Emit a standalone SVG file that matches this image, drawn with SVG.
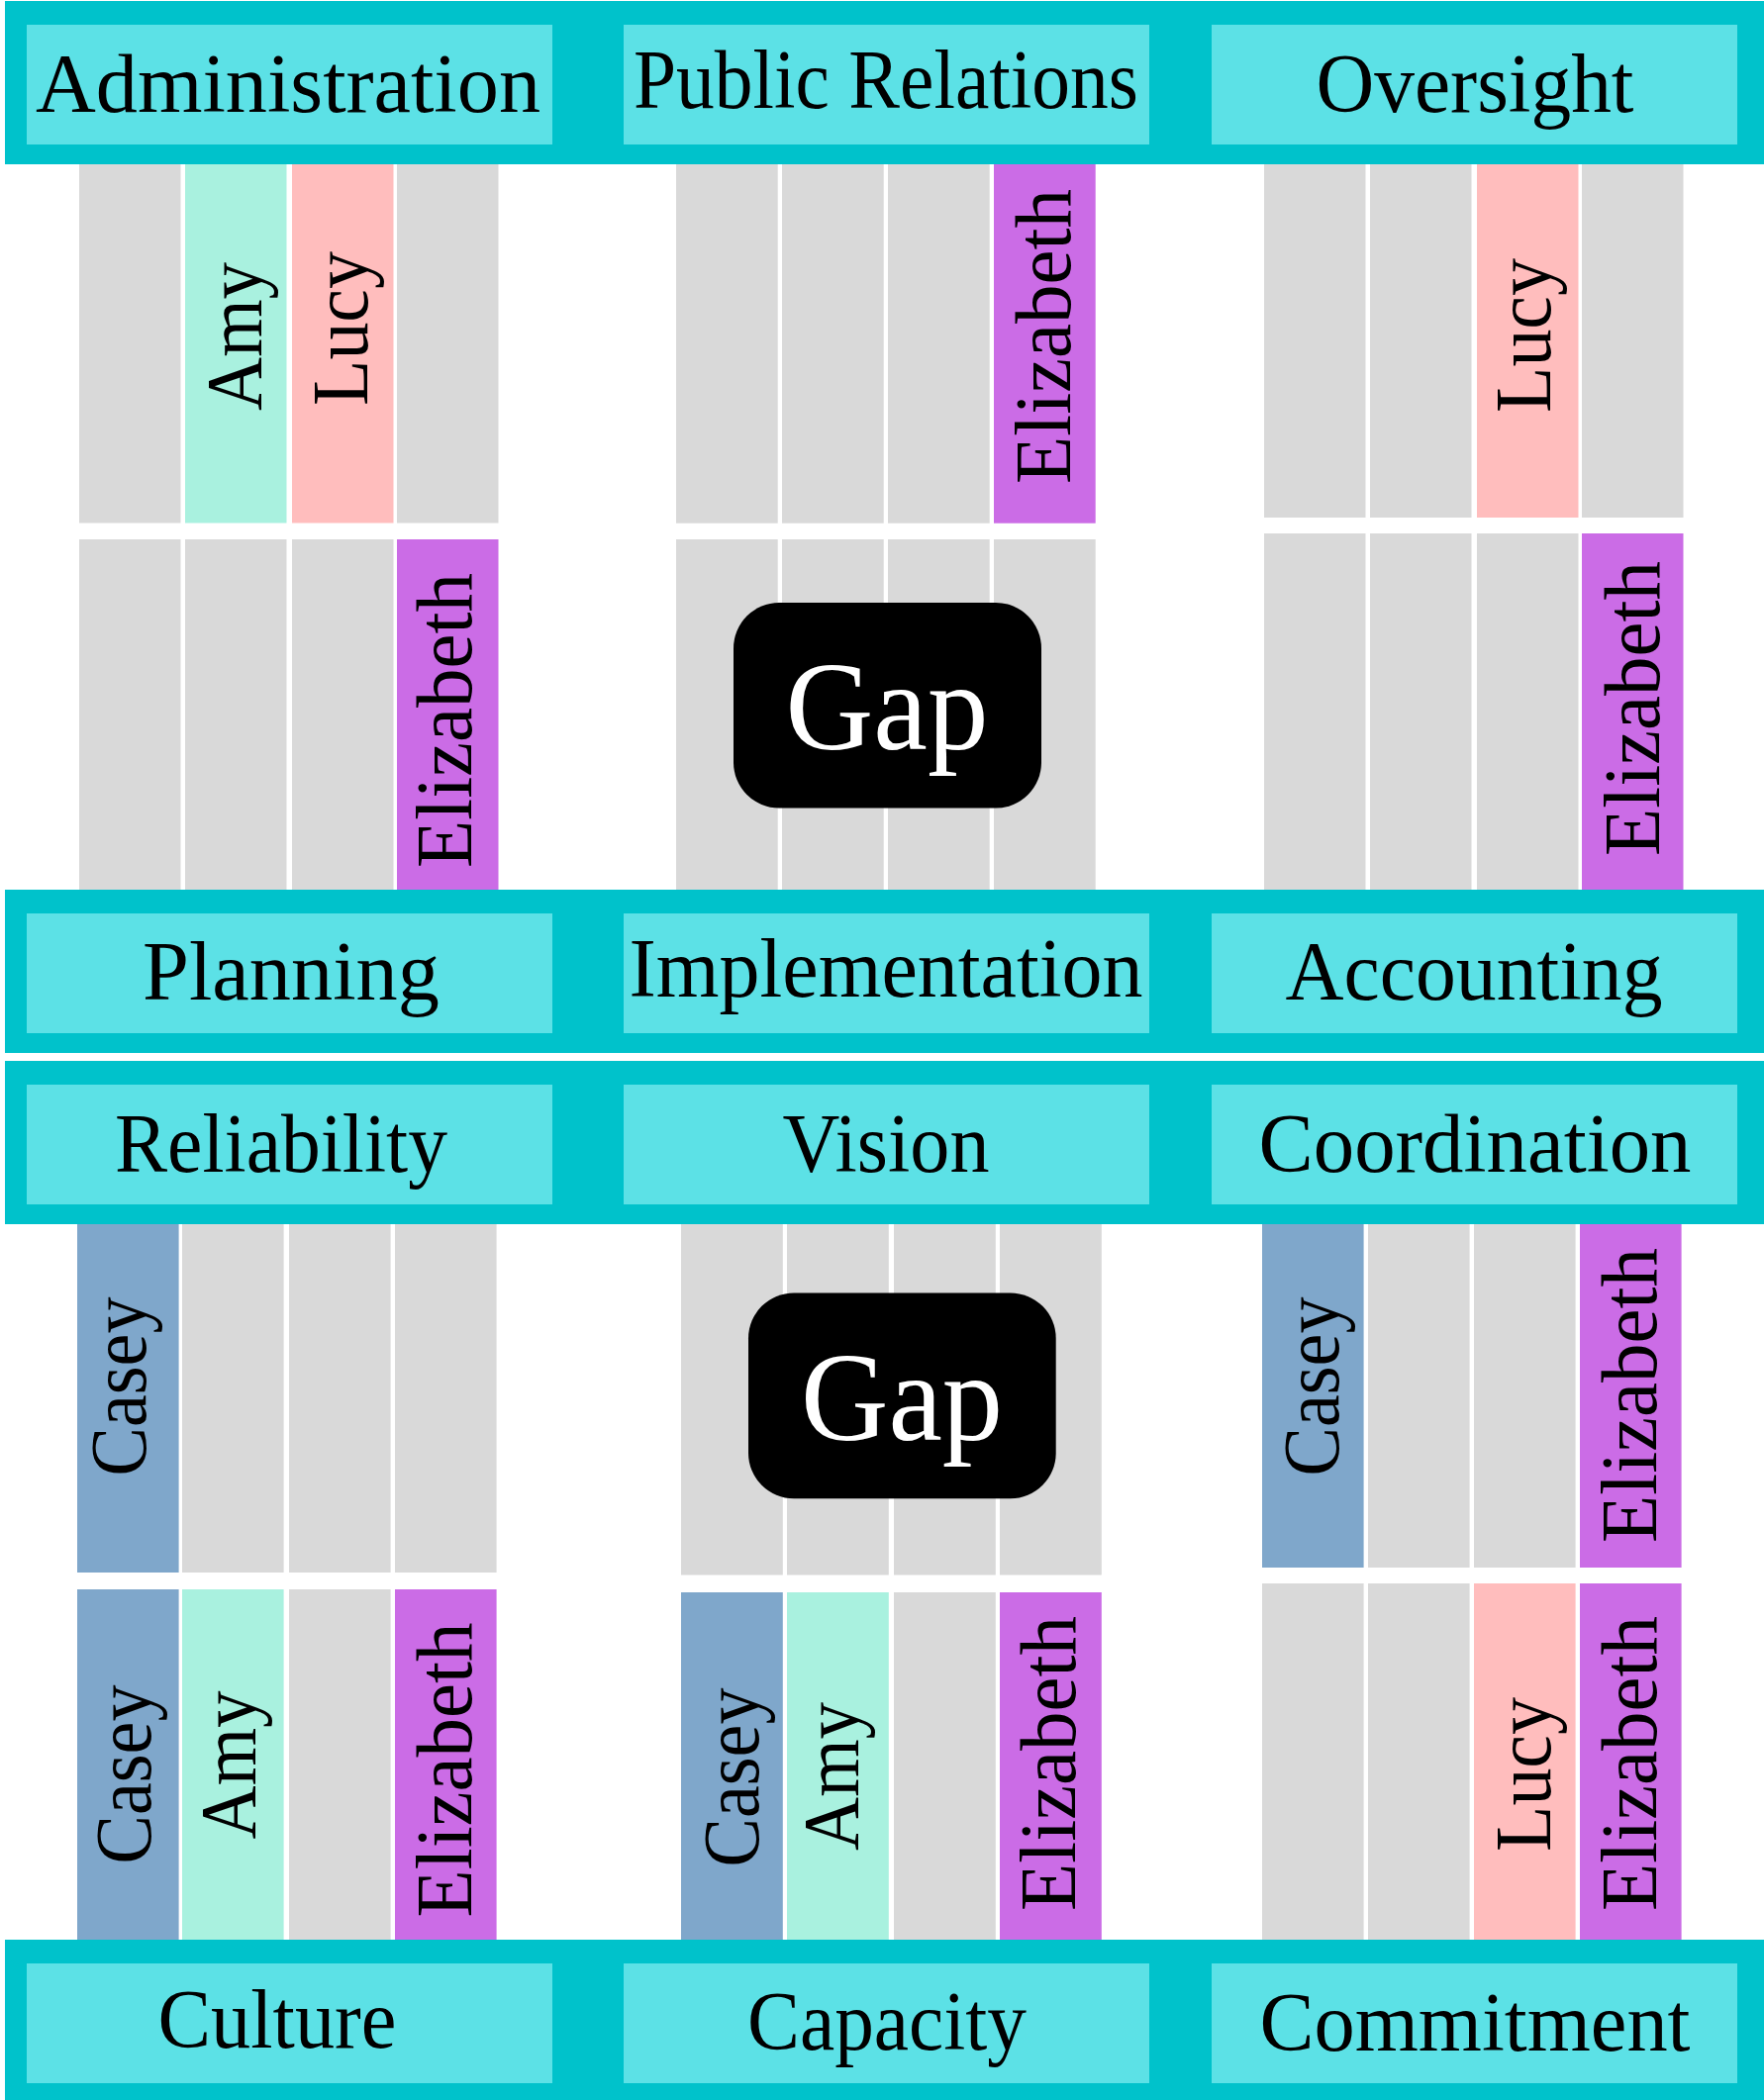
<svg xmlns="http://www.w3.org/2000/svg" width="1782" height="2122" viewBox="0 0 1782 2122">
<style>
.bg{fill:#FFFFFF}
.band{fill:#00C2CB}
.hdr{fill:#5CE1E6}
.g{fill:#D9D9D9}
.amy{fill:#A9F1DF}
.lucy{fill:#FFBDBD}
.eliz{fill:#CB6CE6}
.casey{fill:#7FA7CB}
.gapbox{fill:#000000}
text{font-family:"Liberation Serif","Times New Roman",serif;}
.ht{font-size:84px;fill:#000;text-anchor:middle}
.vt{font-size:80px;fill:#000;text-anchor:middle}
.gt{font-size:128px;fill:#FFFFFF;text-anchor:middle}
</style>
<rect class="bg" x="0" y="0" width="1782" height="2122"/>

<g id="bands">
  <rect class="band" x="5" y="1" width="1777" height="165"/>
  <rect class="band" x="5" y="899" width="1777" height="165"/>
  <rect class="band" x="5" y="1072" width="1777" height="165"/>
  <rect class="band" x="5" y="1960" width="1777" height="162"/>
</g>

<g id="hdr-administration"><rect class="hdr" x="27" y="25" width="531" height="121"/><text class="ht" x="291" y="113" textLength="510" lengthAdjust="spacingAndGlyphs">Administration</text></g>
<g id="hdr-public-relations"><rect class="hdr" x="630" y="25" width="531" height="121"/><text class="ht" x="895" y="109" textLength="510" lengthAdjust="spacingAndGlyphs">Public Relations</text></g>
<g id="hdr-oversight"><rect class="hdr" x="1224" y="25" width="531" height="121"/><text class="ht" x="1490" y="113" textLength="321" lengthAdjust="spacingAndGlyphs">Oversight</text></g>

<g id="hdr-planning"><rect class="hdr" x="27" y="923" width="531" height="121"/><text class="ht" x="294" y="1010" textLength="300" lengthAdjust="spacingAndGlyphs">Planning</text></g>
<g id="hdr-implementation"><rect class="hdr" x="630" y="923" width="531" height="121"/><text class="ht" x="895" y="1007" textLength="519" lengthAdjust="spacingAndGlyphs">Implementation</text></g>
<g id="hdr-accounting"><rect class="hdr" x="1224" y="923" width="531" height="121"/><text class="ht" x="1489" y="1010" textLength="381" lengthAdjust="spacingAndGlyphs">Accounting</text></g>

<g id="hdr-reliability"><rect class="hdr" x="27" y="1096" width="531" height="121"/><text class="ht" x="284" y="1184" textLength="336" lengthAdjust="spacingAndGlyphs">Reliability</text></g>
<g id="hdr-vision"><rect class="hdr" x="630" y="1096" width="531" height="121"/><text class="ht" x="895" y="1184" textLength="209" lengthAdjust="spacingAndGlyphs">Vision</text></g>
<g id="hdr-coordination"><rect class="hdr" x="1224" y="1096" width="531" height="121"/><text class="ht" x="1490" y="1184" textLength="437" lengthAdjust="spacingAndGlyphs">Coordination</text></g>

<g id="hdr-culture"><rect class="hdr" x="27" y="1984" width="531" height="121"/><text class="ht" x="280" y="2069" textLength="241" lengthAdjust="spacingAndGlyphs">Culture</text></g>
<g id="hdr-capacity"><rect class="hdr" x="630" y="1984" width="531" height="121"/><text class="ht" x="896" y="2071" textLength="282" lengthAdjust="spacingAndGlyphs">Capacity</text></g>
<g id="hdr-commitment"><rect class="hdr" x="1224" y="1984" width="531" height="121"/><text class="ht" x="1490" y="2072" textLength="435" lengthAdjust="spacingAndGlyphs">Commitment</text></g>

<!-- Top-left section -->
<g id="admin-row">
  <rect class="g" x="80" y="166" width="102.5" height="362.5"/>
  <rect class="amy" x="187" y="166" width="102.5" height="362.5"/>
  <rect class="lucy" x="295" y="166" width="102.5" height="362.5"/>
  <rect class="g" x="401" y="166" width="102.5" height="362.5"/>
  <text class="vt" transform="translate(264,340) rotate(-90)" textLength="150" lengthAdjust="spacingAndGlyphs">Amy</text>
  <text class="vt" transform="translate(371,332) rotate(-90)" textLength="156" lengthAdjust="spacingAndGlyphs">Lucy</text>
</g>
<g id="planning-row">
  <rect class="g" x="80" y="545" width="102.5" height="354"/>
  <rect class="g" x="187" y="545" width="102.5" height="354"/>
  <rect class="g" x="295" y="545" width="102.5" height="354"/>
  <rect class="eliz" x="401" y="545" width="102.5" height="354"/>
  <text class="vt" transform="translate(475.7,728) rotate(-90)" textLength="298" lengthAdjust="spacingAndGlyphs">Elizabeth</text>
</g>

<!-- Top-middle section -->
<g id="public-relations-row">
  <rect class="g" x="683" y="166" width="102.7" height="362.7"/>
  <rect class="g" x="790" y="166" width="102.7" height="362.7"/>
  <rect class="g" x="897" y="166" width="102.7" height="362.7"/>
  <rect class="eliz" x="1004" y="166" width="102.7" height="362.7"/>
  <text class="vt" transform="translate(1081.4,340) rotate(-90)" textLength="298" lengthAdjust="spacingAndGlyphs">Elizabeth</text>
</g>
<g id="implementation-row">
  <rect class="g" x="683" y="545" width="102.7" height="354"/>
  <rect class="g" x="790" y="545" width="102.7" height="354"/>
  <rect class="g" x="897" y="545" width="102.7" height="354"/>
  <rect class="g" x="1004" y="545" width="102.7" height="354"/>
</g>
<g id="gap-top">
  <rect class="gapbox" x="741" y="609" width="311" height="207.5" rx="46" ry="46"/>
  <text class="gt" x="896" y="757" textLength="205" lengthAdjust="spacingAndGlyphs">Gap</text>
</g>

<!-- Top-right section -->
<g id="oversight-row">
  <rect class="g" x="1277" y="166" width="102.5" height="357"/>
  <rect class="g" x="1384" y="166" width="102.5" height="357"/>
  <rect class="lucy" x="1492" y="166" width="102.5" height="357"/>
  <rect class="g" x="1598" y="166" width="102.5" height="357"/>
  <text class="vt" transform="translate(1565.8,339) rotate(-90)" textLength="156" lengthAdjust="spacingAndGlyphs">Lucy</text>
</g>
<g id="accounting-row">
  <rect class="g" x="1277" y="539" width="102.5" height="360"/>
  <rect class="g" x="1384" y="539" width="102.5" height="360"/>
  <rect class="g" x="1492" y="539" width="102.5" height="360"/>
  <rect class="eliz" x="1598" y="539" width="102.5" height="360"/>
  <text class="vt" transform="translate(1675.7,716) rotate(-90)" textLength="298" lengthAdjust="spacingAndGlyphs">Elizabeth</text>
</g>

<!-- Bottom-left section -->
<g id="reliability-row">
  <rect class="casey" x="78" y="1237" width="102.6" height="352"/>
  <rect class="g" x="184" y="1237" width="102.6" height="352"/>
  <rect class="g" x="292" y="1237" width="102.6" height="352"/>
  <rect class="g" x="399" y="1237" width="102.6" height="352"/>
  <text class="vt" transform="translate(146.6,1401) rotate(-90)" textLength="181" lengthAdjust="spacingAndGlyphs">Casey</text>
</g>
<g id="culture-row">
  <rect class="casey" x="78" y="1606" width="102.6" height="354"/>
  <rect class="amy" x="184" y="1606" width="102.6" height="354"/>
  <rect class="g" x="292" y="1606" width="102.6" height="354"/>
  <rect class="eliz" x="399" y="1606" width="102.6" height="354"/>
  <text class="vt" transform="translate(152.3,1793) rotate(-90)" textLength="181" lengthAdjust="spacingAndGlyphs">Casey</text>
  <text class="vt" transform="translate(257.6,1783.5) rotate(-90)" textLength="150" lengthAdjust="spacingAndGlyphs">Amy</text>
  <text class="vt" transform="translate(475.7,1788.5) rotate(-90)" textLength="298" lengthAdjust="spacingAndGlyphs">Elizabeth</text>
</g>

<!-- Bottom-middle section -->
<g id="vision-row">
  <rect class="g" x="688" y="1237" width="102.8" height="354.5"/>
  <rect class="g" x="795" y="1237" width="102.8" height="354.5"/>
  <rect class="g" x="903" y="1237" width="102.8" height="354.5"/>
  <rect class="g" x="1010" y="1237" width="102.8" height="354.5"/>
</g>
<g id="capacity-row">
  <rect class="casey" x="688" y="1609" width="102.8" height="351"/>
  <rect class="amy" x="795" y="1609" width="102.8" height="351"/>
  <rect class="g" x="903" y="1609" width="102.8" height="351"/>
  <rect class="eliz" x="1010" y="1609" width="102.8" height="351"/>
  <text class="vt" transform="translate(765.7,1796) rotate(-90)" textLength="181" lengthAdjust="spacingAndGlyphs">Casey</text>
  <text class="vt" transform="translate(866.7,1795) rotate(-90)" textLength="150" lengthAdjust="spacingAndGlyphs">Amy</text>
  <text class="vt" transform="translate(1086,1782) rotate(-90)" textLength="298" lengthAdjust="spacingAndGlyphs">Elizabeth</text>
</g>
<g id="gap-bottom">
  <rect class="gapbox" x="756" y="1306.4" width="310.7" height="207.8" rx="46" ry="46"/>
  <text class="gt" x="911" y="1454.5" textLength="204" lengthAdjust="spacingAndGlyphs">Gap</text>
</g>

<!-- Bottom-right section -->
<g id="coordination-row">
  <rect class="casey" x="1275" y="1237" width="102.6" height="347"/>
  <rect class="g" x="1382" y="1237" width="102.6" height="347"/>
  <rect class="g" x="1489" y="1237" width="102.6" height="347"/>
  <rect class="eliz" x="1596" y="1237" width="102.6" height="347"/>
  <text class="vt" transform="translate(1351.5,1401) rotate(-90)" textLength="181" lengthAdjust="spacingAndGlyphs">Casey</text>
  <text class="vt" transform="translate(1673,1410) rotate(-90)" textLength="298" lengthAdjust="spacingAndGlyphs">Elizabeth</text>
</g>
<g id="commitment-row">
  <rect class="g" x="1275" y="1600" width="102.6" height="360"/>
  <rect class="g" x="1382" y="1600" width="102.6" height="360"/>
  <rect class="lucy" x="1489" y="1600" width="102.6" height="360"/>
  <rect class="eliz" x="1596" y="1600" width="102.6" height="360"/>
  <text class="vt" transform="translate(1565.8,1793) rotate(-90)" textLength="156" lengthAdjust="spacingAndGlyphs">Lucy</text>
  <text class="vt" transform="translate(1673,1782) rotate(-90)" textLength="298" lengthAdjust="spacingAndGlyphs">Elizabeth</text>
</g>
</svg>
